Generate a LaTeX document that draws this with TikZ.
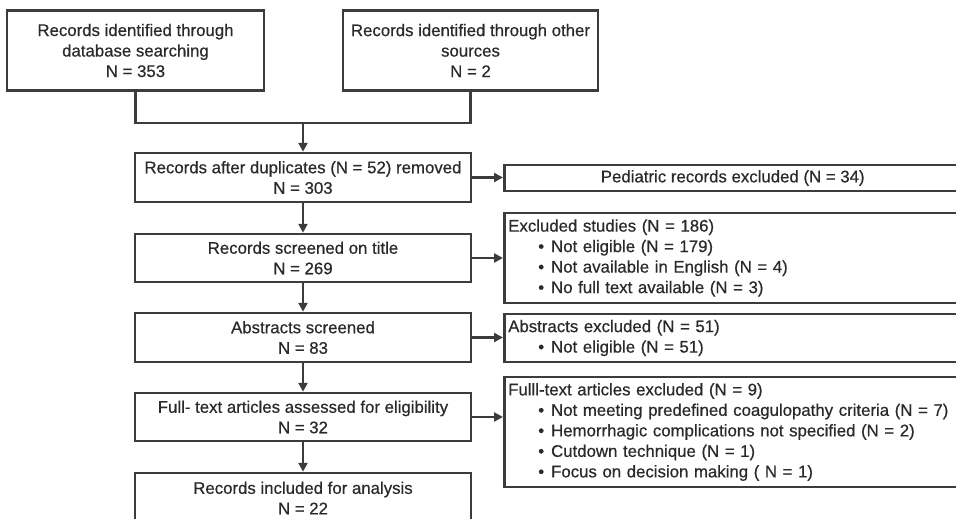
\documentclass[tikz,border=0pt]{standalone}
\usepackage{fontspec}
\setmainfont{Liberation Sans}[FakeBold=0.5]
\usetikzlibrary{arrows.meta}
\definecolor{lncol}{HTML}{3C3C3C}
\definecolor{txcol}{HTML}{2A2A2A}
\newcommand\itm{\\\hspace*{30pt}\textbullet\hspace{7pt}}
\begin{document}
\begin{tikzpicture}[x=1pt,y=-1pt,
  box/.style={draw=lncol, line width=2.5pt, fill=white, align=center, text=txcol, inner sep=2pt,
    font=\fontsize{16.8}{20.5}\selectfont},
  rbox/.style={box, anchor=west, align=left, text width=449pt, inner xsep=4pt, minimum width=457pt},
  conn/.style={draw=lncol, line width=2.5pt},
  arr/.style={conn, -{Triangle[length=9pt,width=9pt]}}
]
\useasboundingbox (0,0) rectangle (956,519);
\fill[white] (0,0) rectangle (956,519);
\clip (0,0) rectangle (956,519);

\node[box, minimum width=257pt, minimum height=80pt] (b1) at (135.5,50.5)
  {Records identified through\\database searching\\N = 353};
\node[box, minimum width=255pt, minimum height=80pt] (b2) at (470.5,50.5)
  {Records identified through other\\sources\\N = 2};
\node[box, minimum width=336pt, minimum height=49pt] (b3) at (303,177.5)
  {Records after duplicates (N = 52) removed\\N = 303};
\node[box, minimum width=336pt, minimum height=48pt] (b4) at (303,258)
  {Records screened on title\\N = 269};
\node[box, minimum width=336pt, minimum height=49pt] (b5) at (303,337.5)
  {Abstracts screened\\N = 83};
\node[box, minimum width=336pt, minimum height=48pt] (b6) at (303,417)
  {Full- text articles assessed for eligibility\\N = 32};
\node[box, minimum width=336pt, minimum height=50pt] (b7) at (303,498)
  {Records included for analysis\\N = 22};

\node[box, anchor=west, minimum width=457pt, minimum height=26pt] (r1) at (503,178)
  {Pediatric records excluded (N = 34)};
\node[rbox, minimum height=90pt] (r2) at (503,258)
  {Excluded studies (N = 186)\itm Not eligible (N = 179)\itm Not available in English (N = 4)\itm No full text available (N = 3)};
\node[rbox, minimum height=48pt] (r3) at (503,338)
  {Abstracts excluded (N = 51)\itm Not eligible (N = 51)};
\node[rbox, minimum height=110pt] (r4) at (503,432)
  {Fulll-text articles excluded (N = 9)\itm Not meeting predefined coagulopathy criteria (N = 7)\itm Hemorrhagic complications not specified (N = 2)\itm Cutdown technique (N = 1)\itm Focus on decision making ( N = 1)};

\coordinate (j) at (303,123);
\draw[conn] (b1.south) |- (j) -| (b2.south);
\draw[arr] (j) -- (b3.north);
\draw[arr] (b3.south) -- (b4.north);
\draw[arr] (b4.south) -- (b5.north);
\draw[arr] (b5.south) -- (b6.north);
\draw[arr] (b6.south) -- (b7.north);

\draw[arr] (b3.east) -- (b3.east -| r1.west);
\draw[arr] (b4.east) -- (b4.east -| r2.west);
\draw[arr] (b5.east) -- (b5.east -| r3.west);
\draw[arr] (b6.east) -- (b6.east -| r4.west);
\end{tikzpicture}
\end{document}
